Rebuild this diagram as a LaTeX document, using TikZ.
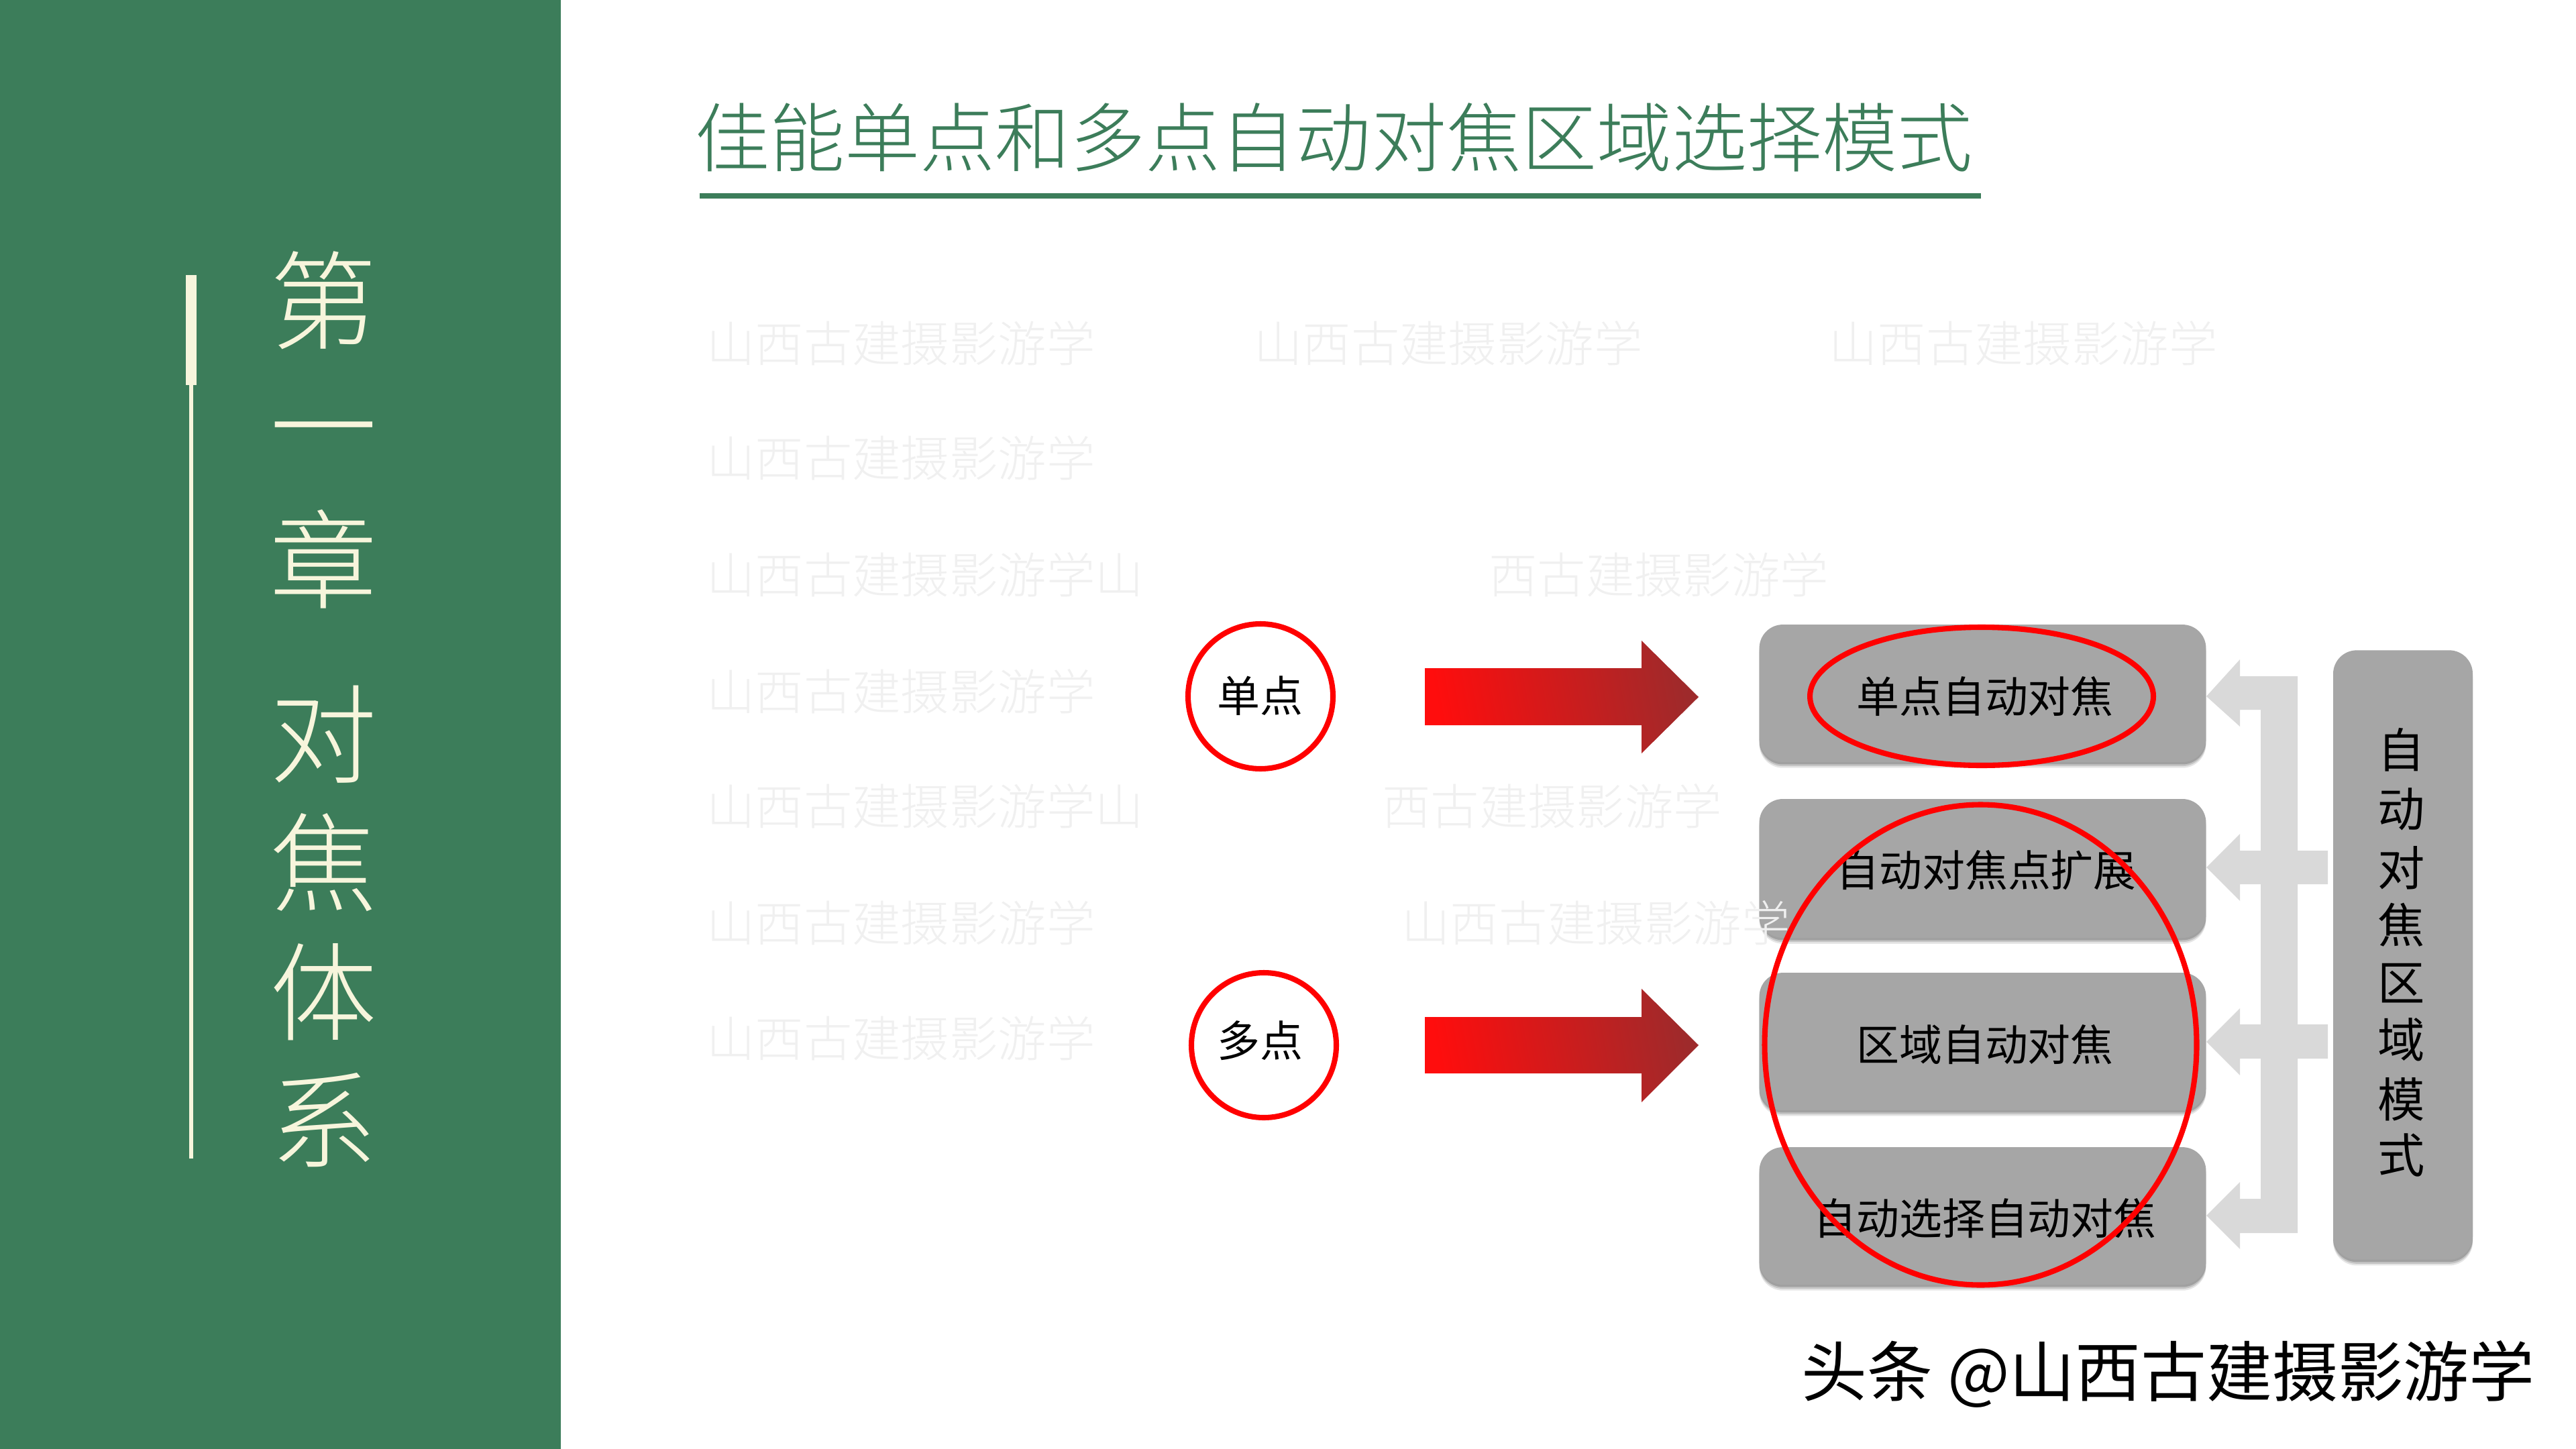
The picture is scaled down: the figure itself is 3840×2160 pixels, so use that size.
\documentclass[tikz,border=0pt]{standalone}
\usepackage{fontspec}
\usetikzlibrary{shadows}
\setmainfont{Noto Sans CJK SC}
\newfontfamily\cjklight{Noto Sans CJK SC Light}
\definecolor{panelgreen}{HTML}{3C7D5A}
\definecolor{creamline}{HTML}{F7F5DC}
\definecolor{boxgray}{HTML}{A6A6A6}
\definecolor{bracketgray}{HTML}{D9D9D9}
\definecolor{markgray}{HTML}{F0F0F0}
\definecolor{arrowstart}{HTML}{FF0D0D}
\definecolor{arrowend}{HTML}{9E2A2B}
\newcommand{\pxfont}[1]{\fontsize{#1}{#1}\selectfont}
\tikzset{
  softshadow/.style={
    general shadow={shadow yshift=-5pt,fill=black,opacity=.10},
    general shadow={shadow yshift=-3.5pt,fill=black,opacity=.14},
    general shadow={shadow yshift=-2pt,fill=black,opacity=.18}},
  graybox/.style={softshadow,fill=boxgray,rounded corners=20pt,inner sep=0pt,minimum width=379pt},
  boxtext/.style={text=black,inner sep=0pt,font=\pxfont{36.4}},
  sidechar/.style={text=black,inner sep=0pt,font=\pxfont{40}},
  chapterchar/.style={text=creamline,inner sep=0pt,font=\cjklight\pxfont{91}},
  redring/.style={draw=red,line width=4.6pt},
  redarrow/.style={left color=arrowstart,right color=arrowend,shading angle=100},
  wmark/.style={text=markgray,inner sep=0pt,anchor=west,font=\cjklight\pxfont{41.2}}
}
\begin{document}
\begin{tikzpicture}[x=0.02cm,y=-0.02cm]
\useasboundingbox (0,0) rectangle (3840,2160);
\fill[white] (0,0) rectangle (3840,2160);
% left panel
\fill[panelgreen] (0,0) rectangle (836,2160);
\fill[creamline] (277,410) rectangle (293,574);
\fill[creamline] (282,574) rectangle (288,1727);
\node[chapterchar] (c1) at (482,448) {第};
\node[chapterchar] (c2) at (482,662) {一};
\node[chapterchar] (c3) at (482,833) {章};
\node[chapterchar] (c4) at (482,1095) {对};
\node[chapterchar] (c5) at (482,1286) {焦};
\node[chapterchar] (c6) at (482,1479) {体};
\node[chapterchar] (c7) at (482,1670) {系};
% title
\node[text=panelgreen,inner sep=0pt,font=\cjklight\pxfont{63.8}] (title) at (1988,205) {佳能单点和多点自动对焦区域选择模式};
\draw[panelgreen,line width=4pt] (1043,292) -- (2953,292);
% gray boxes
\node[graybox,minimum height=116.6pt] (b1) at (2955.5,1033.5) {};
\node[graybox,minimum height=117.8pt] (b2) at (2955.5,1294.5) {};
\node[graybox,minimum height=116.6pt] (b3) at (2955.5,1552.5) {};
\node[graybox,minimum height=116.6pt] (b4) at (2955.5,1812.5) {};
\node[softshadow,fill=boxgray,rounded corners=20pt,inner sep=0pt,minimum width=118.4pt,minimum height=517pt] (side) at (3582,1423.5) {};
% watermark
\node[wmark] (m1) at (1053,512) {山西古建摄影游学};
\node[wmark] (m2) at (1869,512) {山西古建摄影游学};
\node[wmark] (m3) at (2726,512) {山西古建摄影游学};
\node[wmark] (m4) at (1053,683) {山西古建摄影游学};
\node[wmark] (m5) at (1053,857) {山西古建摄影游学山};
\node[wmark] (m6) at (2219,857) {西古建摄影游学};
\node[wmark] (m7) at (1053,1031) {山西古建摄影游学};
\node[wmark] (m8) at (1053,1202) {山西古建摄影游学山};
\node[wmark] (m9) at (2060,1202) {西古建摄影游学};
\node[wmark] (m10) at (1053,1376) {山西古建摄影游学};
\node[wmark] (m11) at (2089,1376) {山西古建摄影游学};
\node[wmark] (m12) at (1053,1548) {山西古建摄影游学};
% bracket
\fill[bracketgray] (3289,1038) -- (3339,983) -- (3339,1008) -- (3425,1008)
  -- (3425,1268) -- (3470,1268) -- (3470,1318) -- (3425,1318)
  -- (3425,1527) -- (3470,1527) -- (3470,1578) -- (3425,1578)
  -- (3425,1838) -- (3339,1838) -- (3339,1862) -- (3289,1812) -- (3339,1762)
  -- (3339,1787) -- (3370,1787) -- (3370,1578) -- (3339,1578) -- (3339,1603)
  -- (3289,1553) -- (3339,1503) -- (3339,1527) -- (3370,1527)
  -- (3370,1318) -- (3339,1318) -- (3339,1343) -- (3289,1293) -- (3339,1243)
  -- (3339,1268) -- (3370,1268) -- (3370,1058) -- (3339,1058) -- (3339,1083) -- cycle;
% red arrows
\path[redarrow] (2124,996) -- (2447,996) -- (2447,955) -- (2532,1039) -- (2447,1123) -- (2447,1081) -- (2124,1081) -- cycle;
\path[redarrow] (2124,1516) -- (2447,1516) -- (2447,1474) -- (2532,1558) -- (2447,1643) -- (2447,1600) -- (2124,1600) -- cycle;
% box text
\node[boxtext] (t1) at (2959,1038) {单点自动对焦};
\node[boxtext] (t2) at (2961,1297) {自动对焦点扩展};
\node[boxtext] (t3) at (2959,1557) {区域自动对焦};
\node[boxtext] (t4) at (2959,1816) {自动选择自动对焦};
\node[sidechar] (s1) at (3580,1118) {自};
\node[sidechar] (s2) at (3580,1206) {动};
\node[sidechar] (s3) at (3580,1294) {对};
\node[sidechar] (s4) at (3580,1379) {焦};
\node[sidechar] (s5) at (3580,1466) {区};
\node[sidechar] (s6) at (3580,1550) {域};
\node[sidechar] (s7) at (3580,1639) {模};
\node[sidechar] (s8) at (3580,1722) {式};
% rings
\draw[redring] (2954,1038) ellipse [x radius=256,y radius=103];
\draw[redring] (2952.5,1557.5) ellipse [x radius=322,y radius=358];
\draw[redring] (1879,1038) ellipse [x radius=108,y radius=108];
\draw[redring] (1884,1558) ellipse [x radius=108,y radius=108];
\node[boxtext] (l1) at (1878,1037) {单点};
\node[boxtext] (l2) at (1878,1551) {多点};
% credit
\node[text=black,inner sep=0pt,font=\pxfont{55.7}] (credit) at (3232,2048) {头条 @山西古建摄影游学};
\end{tikzpicture}
\end{document}
